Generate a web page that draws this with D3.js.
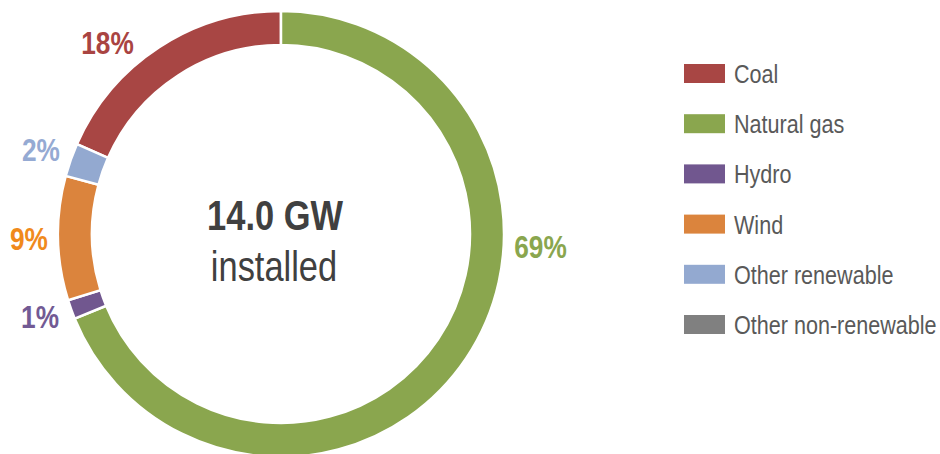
<!DOCTYPE html>
<html>
<head>
<meta charset="utf-8">
<script src="https://cdn.jsdelivr.net/npm/d3@7"></script>
<style>
  body { margin: 0; background: #fff; }
  svg { display: block; font-family: "Liberation Sans", Arial, sans-serif; }
</style>
</head>
<body>
<script>
// capacity mix, share of installed capacity (%)
const categories = ['Coal', 'Natural gas', 'Hydro', 'Wind', 'Other renewable', 'Other non-renewable'];
const shares = [18.4, 68.8, 1.4, 9.0, 2.4, 0];
const totalGW = 14.0;

const colors = ['#a84644', '#8aa64e', '#71578f', '#db843d', '#93a9d0', '#808080'];
const labelColors = ['#a94442', '#8aa64e', '#725a94', '#f08a1c', '#95aad3', '#808080'];

const width = 940,
  height = 454;
const cx = 281,
  cy = 234;
const rOuter = 223,
  rInner = 189;
// no narrow font installed, so squeeze the text horizontally
const narrow = 0.82;

const svg = d3.select('body').append('svg')
  .attr('width', width)
  .attr('height', height);

const data = categories.map((c, i) => ({ name: c, value: shares[i], i }));
const total = d3.sum(shares);

// coal ends at 12 o'clock, the rest runs clockwise from there
const start = -2 * Math.PI * shares[0] / total;
const pie = d3.pie()
  .sort(null)
  .value(d => d.value)
  .startAngle(start)
  .endAngle(start + 2 * Math.PI);

const arc = d3.arc()
  .innerRadius(rInner)
  .outerRadius(rOuter);

const g = svg.append('g')
  .attr('transform', `translate(${cx},${cy})`);

const arcs = pie(data);

g.selectAll('path')
  .data(arcs.filter(d => d.value > 0))
  .enter().append('path')
  .attr('d', arc)
  .attr('fill', d => colors[d.data.i])
  .attr('stroke', '#fff')
  .attr('stroke-width', 2.5);

// outside-end labels: box edge sits a fixed gap past the ring
// (two of them were nudged round the ring in the original)
const nudge = { 'Coal': -9, 'Natural gas': -31, 'Hydro': 1 };
const fmt = d3.format('.0%');
g.selectAll('.lbl')
  .data(arcs.filter(d => d.value > 0))
  .enter().append('text')
  .attr('class', 'lbl')
  .attr('text-anchor', 'middle')
  .attr('dy', '0.36em')
  .style('font-size', '32px')
  .style('font-weight', 'bold')
  .attr('fill', d => labelColors[d.data.i])
  .text(d => fmt(d.value / total))
  .attr('transform', function (d) {
    const a = (d.startAngle + d.endAngle) / 2 + (nudge[d.data.name] || 0) * Math.PI / 180;
    const hw = this.getComputedTextLength() * narrow / 2,
      hh = 11;
    const r = rOuter + 10 + hw * Math.abs(Math.sin(a)) + hh * Math.abs(Math.cos(a));
    return `translate(${r * Math.sin(a)},${-r * Math.cos(a)}) scale(${narrow},1)`;
  });

// centre text
g.append('text')
  .attr('transform', `translate(-6,-4) scale(${narrow},1)`)
  .attr('text-anchor', 'middle')
  .style('font-size', '42px')
  .style('font-weight', 'bold')
  .attr('fill', '#404040')
  .text(`${totalGW.toFixed(1)} GW`);

g.append('text')
  .attr('transform', `translate(-7,47) scale(${narrow},1)`)
  .attr('text-anchor', 'middle')
  .style('font-size', '42px')
  .attr('fill', '#404040')
  .text('installed');

// legend
const legend = svg.append('g')
  .attr('transform', 'translate(684,64)');

const item = legend.selectAll('.item')
  .data(categories)
  .enter().append('g')
  .attr('class', 'item')
  .attr('transform', (d, i) => `translate(0,${i * 50.2})`);

item.append('rect')
  .attr('width', 41)
  .attr('height', 19)
  .attr('fill', (d, i) => colors[i]);

item.append('text')
  .attr('transform', `translate(50,19) scale(0.83,1)`)
  .style('font-size', '26px')
  .attr('fill', '#595959')
  .text(d => d);
</script>
</body>
</html>
